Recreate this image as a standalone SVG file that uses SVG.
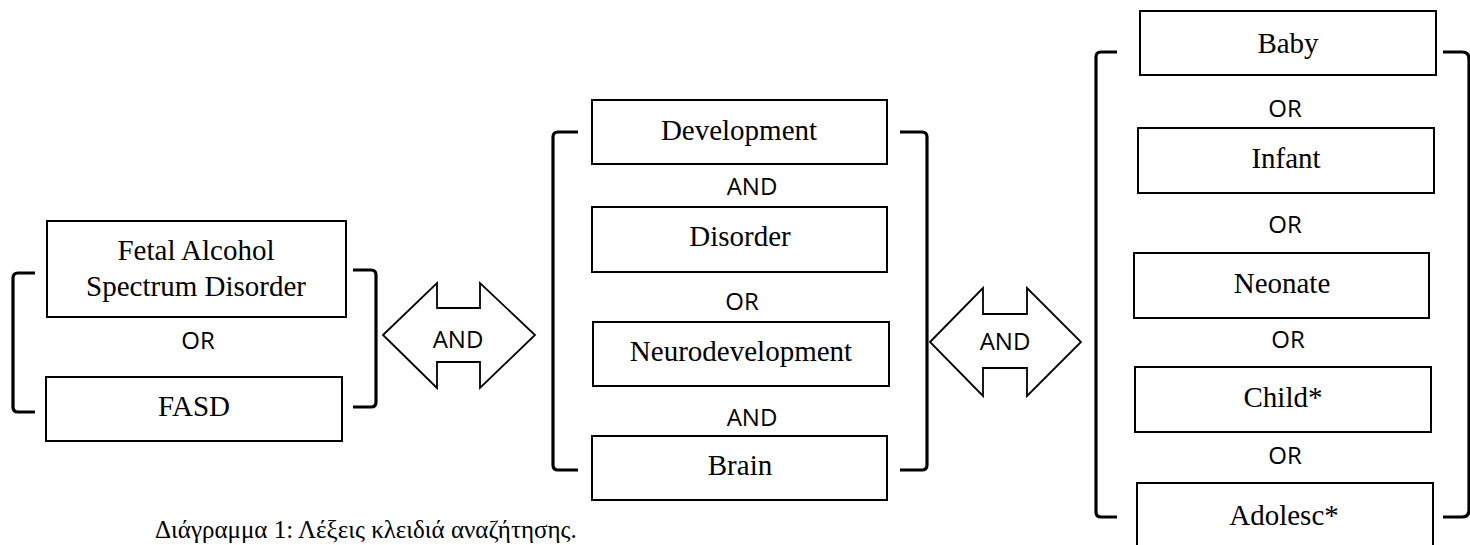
<svg xmlns="http://www.w3.org/2000/svg" width="1470" height="545" viewBox="0 0 1470 545">
<style>
.box{fill:#fff;stroke:#000;stroke-width:2}
.lbl{font-family:"Liberation Serif","Times New Roman",serif;font-size:29px;fill:#000;text-anchor:middle}
.op{font-family:"Open Sans","Liberation Sans",sans-serif;font-size:24px;fill:#000;text-anchor:middle}
.br{fill:none;stroke:#000;stroke-width:3.2;stroke-linejoin:round;stroke-linecap:butt}
.arr{fill:#fff;stroke:#000;stroke-width:1.8;stroke-linejoin:miter}
.cap{font-family:"Liberation Serif","Times New Roman",serif;font-size:25px;fill:#000}
</style>
<rect width="1470" height="545" fill="#fff"/>

<g id="group-fasd">
  <path class="br" d="M35,273 H18 Q13,273 13,278 V407 Q13,412 18,412 H35"/>
  <path class="br" d="M353,270 H371 Q376,270 376,275 V402 Q376,407 371,407 H353"/>
  <g id="node-fasd-full">
    <rect class="box" x="47" y="221" width="299" height="96"/>
    <text class="lbl" x="196" y="260">Fetal Alcohol</text>
    <text class="lbl" x="196" y="296">Spectrum Disorder</text>
  </g>
  <text class="op" x="198" y="349">OR</text>
  <g id="node-fasd">
    <rect class="box" x="46" y="377" width="296" height="64"/>
    <text class="lbl" x="194" y="416">FASD</text>
  </g>
</g>

<g id="group-development">
  <path class="br" d="M578,132 H558 Q553,132 553,137 V465 Q553,470 558,470 H578"/>
  <path class="br" d="M900,132 H922 Q927,132 927,137 V465 Q927,470 922,470 H900"/>
  <g id="node-development">
    <rect class="box" x="592" y="100" width="295" height="64"/>
    <text class="lbl" x="739" y="140">Development</text>
  </g>
  <text class="op" x="752" y="195">AND</text>
  <g id="node-disorder">
    <rect class="box" x="592" y="207" width="295" height="65"/>
    <text class="lbl" x="740" y="246">Disorder</text>
  </g>
  <text class="op" x="742" y="310">OR</text>
  <g id="node-neurodevelopment">
    <rect class="box" x="593" y="322" width="296" height="64"/>
    <text class="lbl" x="741" y="361">Neurodevelopment</text>
  </g>
  <text class="op" x="752" y="426">AND</text>
  <g id="node-brain">
    <rect class="box" x="592" y="436" width="295" height="64"/>
    <text class="lbl" x="740" y="475">Brain</text>
  </g>
</g>

<g id="group-age">
  <path class="br" d="M1117,52 H1101 Q1096,52 1096,57 V512 Q1096,517 1101,517 H1117"/>
  <path class="br" d="M1443,52 H1462 Q1469,52 1469,59 V510 Q1469,517 1462,517 H1443"/>
  <g id="node-baby">
    <rect class="box" x="1140" y="11" width="296" height="64"/>
    <text class="lbl" x="1288" y="53">Baby</text>
  </g>
  <text class="op" x="1285" y="117">OR</text>
  <g id="node-infant">
    <rect class="box" x="1138" y="128" width="296" height="65"/>
    <text class="lbl" x="1286" y="168">Infant</text>
  </g>
  <text class="op" x="1285" y="233">OR</text>
  <g id="node-neonate">
    <rect class="box" x="1134" y="253" width="295" height="65"/>
    <text class="lbl" x="1282" y="293">Neonate</text>
  </g>
  <text class="op" x="1288" y="348">OR</text>
  <g id="node-child">
    <rect class="box" x="1135" y="367" width="296" height="65"/>
    <text class="lbl" x="1283" y="407">Child*</text>
  </g>
  <text class="op" x="1285" y="464">OR</text>
  <g id="node-adolesc">
    <rect class="box" x="1137" y="483" width="296" height="80"/>
    <text class="lbl" x="1284" y="525">Adolesc*</text>
  </g>
</g>

<g id="connectors">
  <g id="and-arrow-1">
    <path class="arr" d="M383,335 L437,283 V308 H480 V283 L535,335 L480,388 V362 H437 V388 Z"/>
    <text class="op" x="458" y="348">AND</text>
  </g>
  <g id="and-arrow-2">
    <path class="arr" d="M930,342 L983,288 V314 H1027 V288 L1081,342 L1027,396 V368 H983 V396 Z"/>
    <text class="op" x="1005" y="350">AND</text>
  </g>
</g>

<text class="cap" x="155" y="538">Διάγραμμα 1: Λέξεις κλειδιά αναζήτησης.</text>
</svg>
